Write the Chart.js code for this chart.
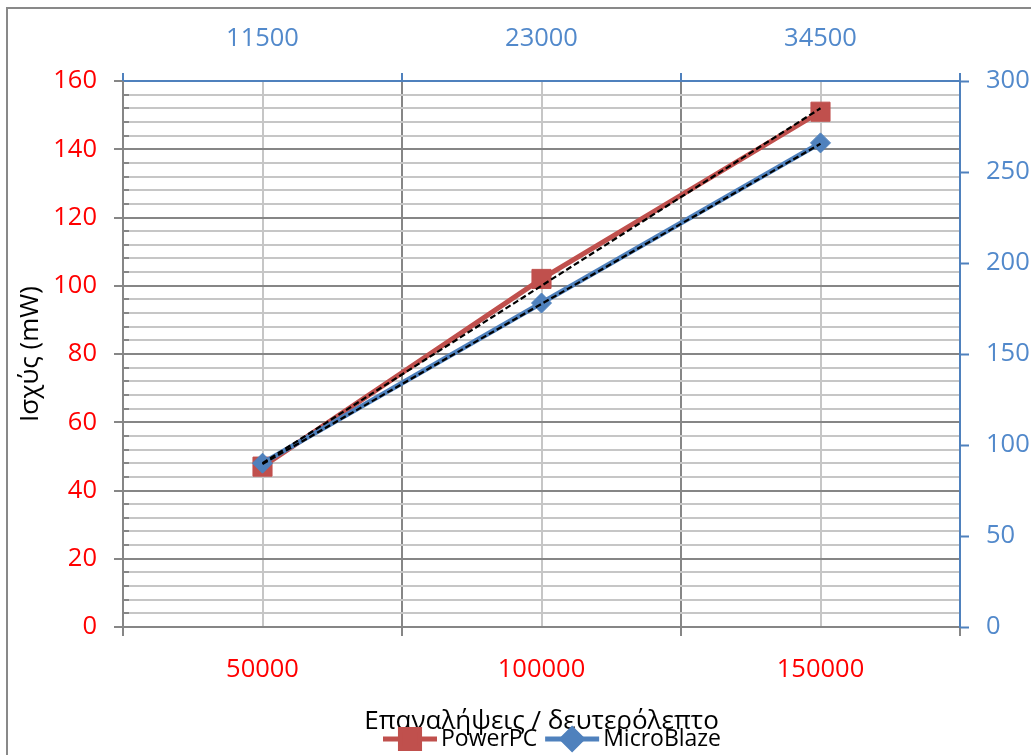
<!DOCTYPE html>
<html>
<head>
<meta charset="utf-8">
<title>Ισχύς ανά επαναλήψεις</title>
<script src="https://cdn.jsdelivr.net/npm/chart.js@4/dist/chart.umd.min.js"></script>
<style>
  html, body { margin: 0; padding: 0; background: #ffffff; }
  #wrap { width: 1031px; height: 755px; position: relative; }
</style>
</head>
<body>
<div id="wrap"><canvas id="chart" width="1031" height="755"></canvas></div>
<script>
// Iterations per second (bottom axis) and the matching top-axis labels
const iterations = ['50000', '100000', '150000'];
const iterationsTop = ['11500', '23000', '34500'];

// Power readings (mW)
const powerPC = [47, 102, 151];        // left axis
const microBlaze = [90, 178, 266];     // right axis

// Linear trend lines for each series
const powerPCTrend = [48, 100, 152];
const microBlazeTrend = [89.5, 177.5, 265.5];

const seriesNames = ['PowerPC', 'MicroBlaze'];
const xTitle = 'Επαναλήψεις / δευτερόλεπτο';
const yTitle = 'Ισχύς (mW)';

const RED = '#C0504D';
const BLUE = '#4F81BD';
const LABEL_RED = '#FF0000';
const LABEL_BLUE = '#5289CB';
const GRID_DARK = '#868686';
const GRID_LIGHT = '#C6C6C6';
const FONT = "'Open Sans', 'DejaVu Sans', sans-serif";
const TICK_SIZE = 25.5;
const TITLE_SIZE = 26;
const LEGEND_SIZE = 23;

Chart.defaults.font.family = FONT;
Chart.defaults.font.size = TICK_SIZE;
Chart.defaults.color = '#000000';

// White page and grey frame around the chart
const framePlugin = {
  id: 'frame',
  beforeDraw(chart) {
    const ctx = chart.ctx;
    ctx.save();
    ctx.fillStyle = '#ffffff';
    ctx.fillRect(0, 0, chart.width, chart.height);
    ctx.strokeStyle = '#898989';
    ctx.lineWidth = 2;
    ctx.strokeRect(7, 8, chart.width + 40, chart.height + 40);
    ctx.restore();
  }
};

// Minor inward ticks on the left axis and category-boundary ticks on the top axis
const tickPlugin = {
  id: 'extraTicks',
  beforeDatasetsDraw(chart) {
    const ctx = chart.ctx;
    const y = chart.scales.y;
    const x = chart.scales.x;
    const area = chart.chartArea;
    ctx.save();
    ctx.lineWidth = 2;
    ctx.strokeStyle = GRID_DARK;
    y.ticks.forEach(t => {
      if (t.value % 20 !== 0) {
        const py = Math.round(y.getPixelForValue(t.value));
        ctx.beginPath();
        ctx.moveTo(area.left, py);
        ctx.lineTo(area.left + 6, py);
        ctx.stroke();
      }
    });
    ctx.strokeStyle = BLUE;
    for (let i = 0; i <= iterations.length; i++) {
      const px = Math.round(x.getPixelForValue(i - 0.5));
      ctx.beginPath();
      ctx.moveTo(px, area.top);
      ctx.lineTo(px, area.top - 8);
      ctx.stroke();
    }
    ctx.restore();
  }
};

// Legend drawn as line + marker + name, centred under the plot
const legendPlugin = {
  id: 'lineLegend',
  afterDraw(chart) {
    const ctx = chart.ctx;
    const items = chart.data.datasets.filter(d => d.inLegend);
    const cy = 739;
    let cx = 383;
    ctx.save();
    ctx.font = LEGEND_SIZE + 'px ' + FONT;
    ctx.textBaseline = 'middle';
    ctx.textAlign = 'left';
    items.forEach(d => {
      ctx.strokeStyle = d.borderColor;
      ctx.lineWidth = d.borderWidth;
      ctx.beginPath();
      ctx.moveTo(cx, cy);
      ctx.lineTo(cx + 54, cy);
      ctx.stroke();
      ctx.fillStyle = d.pointBackgroundColor;
      ctx.strokeStyle = d.pointBorderColor;
      Chart.helpers.drawPoint(ctx, {
        pointStyle: d.pointStyle,
        radius: d.pointRadius,
        rotation: 0,
        borderWidth: 1
      }, cx + 27, cy);
      ctx.fillStyle = '#000000';
      ctx.fillText(d.label, cx + 58, cy);
      cx += 58 + ctx.measureText(d.label).width + 8;
    });
    ctx.restore();
  }
};

const chart = new Chart(document.getElementById('chart'), {
  type: 'line',
  data: {
    labels: iterations,
    datasets: [
      {
        label: 'PowerPC trend',
        data: powerPCTrend,
        xAxisID: 'x', yAxisID: 'y',
        borderColor: '#000000', borderWidth: 2.2, borderDash: [6, 3],
        pointRadius: 0, fill: false, order: 0
      },
      {
        label: 'MicroBlaze trend',
        data: microBlazeTrend,
        xAxisID: 'x2', yAxisID: 'y2',
        borderColor: '#000000', borderWidth: 2.2, borderDash: [6, 3],
        pointRadius: 0, fill: false, order: 1
      },
      {
        label: seriesNames[0],
        data: powerPC,
        xAxisID: 'x', yAxisID: 'y',
        borderColor: RED, borderWidth: 5,
        pointStyle: 'rect', pointRadius: 13.5,
        pointBackgroundColor: RED, pointBorderColor: RED, pointBorderWidth: 1,
        fill: false, order: 3, inLegend: true
      },
      {
        label: seriesNames[1],
        data: microBlaze,
        xAxisID: 'x2', yAxisID: 'y2',
        borderColor: BLUE, borderWidth: 5,
        pointStyle: 'rectRot', pointRadius: 10,
        pointBackgroundColor: BLUE, pointBorderColor: BLUE, pointBorderWidth: 1,
        fill: false, order: 2, inLegend: true
      }
    ]
  },
  options: {
    responsive: false,
    animation: false,
    layout: { padding: 0 },
    plugins: {
      legend: { display: false },
      tooltip: { enabled: false }
    },
    elements: { line: { tension: 0 } },
    scales: {
      x: {
        type: 'category',
        position: 'bottom',
        labels: iterations,
        offset: true,
        grid: {
          offset: true,
          lineWidth: 2,
          color: c => (c.index > 0 && c.index < iterations.length) ? GRID_DARK : 'rgba(0,0,0,0)',
          tickColor: GRID_DARK,
          tickLength: 9,
          tickWidth: 2
        },
        border: { color: GRID_DARK, width: 2 },
        ticks: { color: LABEL_RED, padding: 18.5, font: { size: TICK_SIZE }, maxRotation: 0 },
        title: {
          display: true, text: xTitle, color: '#000000',
          font: { size: TITLE_SIZE }, padding: { top: 0, bottom: 17.5 }
        },
        afterFit: s => { s.height = 128; }
      },
      x2: {
        type: 'category',
        position: 'top',
        labels: iterationsTop,
        offset: true,
        grid: {
          offset: false,
          lineWidth: 2,
          color: GRID_LIGHT,
          drawTicks: false
        },
        border: { color: BLUE, width: 2 },
        ticks: { color: LABEL_BLUE, padding: 26.5, font: { size: TICK_SIZE }, maxRotation: 0 },
        afterFit: s => { s.height = 81; }
      },
      y: {
        position: 'left',
        min: 0, max: 160,
        ticks: {
          stepSize: 4, autoSkip: false, color: LABEL_RED, padding: 17,
          font: { size: TICK_SIZE },
          callback: v => (v % 20 === 0 ? String(v) : '')
        },
        grid: {
          lineWidth: 2,
          color: c => (c.tick && c.tick.value % 20 === 0) ? GRID_DARK : GRID_LIGHT,
          tickColor: c => (c.tick && c.tick.value % 20 === 0) ? GRID_DARK : 'rgba(0,0,0,0)',
          tickLength: 9,
          tickWidth: 2
        },
        border: { color: GRID_DARK, width: 2 },
        title: {
          display: true, text: yTitle, color: '#000000',
          font: { size: TITLE_SIZE }, padding: { top: 14.5, bottom: 0 }
        },
        afterFit: s => { s.width = 123; }
      },
      y2: {
        position: 'right',
        min: 0, max: 300,
        ticks: { stepSize: 50, color: LABEL_BLUE, padding: 17, font: { size: TICK_SIZE } },
        grid: {
          drawOnChartArea: false,
          tickColor: BLUE,
          tickLength: 9,
          tickWidth: 2
        },
        border: { color: BLUE, width: 2 },
        afterFit: s => { s.width = 71; }
      }
    }
  },
  plugins: [framePlugin, tickPlugin, legendPlugin]
});
</script>
</body>
</html>
